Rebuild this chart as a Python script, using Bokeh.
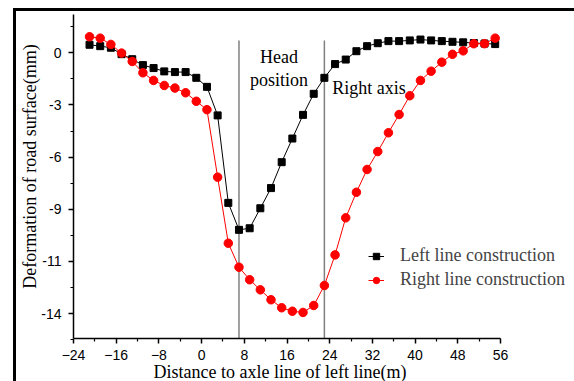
import math
from bokeh.plotting import figure
from bokeh.models import (Range1d, FixedTicker, Label, Legend, LegendItem,
                          BoxAnnotation)
from bokeh.embed import file_html
from bokeh.resources import INLINE

# ---- data ----
distance = [-21, -19, -17, -15, -13, -11, -9, -7, -5, -3, -1, 1, 3, 5, 7, 9,
            11, 13, 15, 17, 19, 21, 23, 25, 27, 29, 31, 33, 35, 37, 39, 41,
            43, 45, 47, 49, 51, 53, 55]
left_line = [0.46, 0.38, 0.29, -0.08, -0.37, -0.71, -0.88, -1.07, -1.11,
             -1.11, -1.44, -1.96, -3.60, -8.63, -10.18, -10.09, -8.94, -7.78,
             -6.29, -4.93, -3.57, -2.36, -1.44, -0.65, -0.39, 0.09, 0.38,
             0.55, 0.67, 0.67, 0.71, 0.76, 0.71, 0.67, 0.63, 0.60, 0.56,
             0.53, 0.50]
right_line = [0.92, 0.84, 0.48, -0.02, -0.50, -1.15, -1.59, -1.88, -2.03,
              -2.30, -2.79, -3.27, -7.15, -10.95, -12.33, -13.05, -13.63,
              -14.20, -14.66, -14.86, -14.93, -14.53, -13.38, -11.62, -9.49,
              -8.02, -6.71, -5.68, -4.60, -3.55, -2.47, -1.59, -1.06, -0.54,
              -0.09, 0.11, 0.52, 0.52, 0.84]
x_ticks = [-24, -16, -8, 0, 8, 16, 24, 32, 40, 48, 56]
y_ticks = [0, -3, -6, -9, -12, -15]
y_tick_labels = ["0", "-3", "-6", "-9", "-11", "-14"]
ref_lines = [7, 23]
series_names = ["Left line construction", "Right line construction"]

SERIF = "Liberation Serif"
SANS = "Liberation Sans"

# axis extents (where the drawn axes start/end)
AX0, AX1 = -24, 56
AY0, AY1 = -16.43, 2.2
# whole canvas range (frame covers the whole canvas, axes at fixed locations)
X0, X1 = -37.68, 69.86
Y0, Y1 = -18.90, 3.005

p = figure(width=574, height=381, x_range=Range1d(X0, X1),
           y_range=Range1d(Y0, Y1), output_backend="svg",
           toolbar_location=None, min_border=0)
p.title.visible = False
p.background_fill_color = "white"
p.border_fill_color = "white"
p.outline_line_color = None
p.grid.visible = False

# axes
x_minor = [t + 4 for t in x_ticks[:-1]]
y_minor = [t + 1.5 for t in y_ticks] + [t - 1.5 for t in y_ticks]
p.xaxis.ticker = FixedTicker(ticks=x_ticks, minor_ticks=x_minor)
p.yaxis.ticker = FixedTicker(ticks=y_ticks, minor_ticks=y_minor)
p.yaxis.major_label_overrides = dict(zip(y_ticks, y_tick_labels))
p.xaxis.fixed_location = AY0
p.yaxis.fixed_location = AX0
p.xaxis.bounds = (AX0, AX1)
p.yaxis.bounds = (AY0, AY1)
for ax in (p.xaxis[0], p.yaxis[0]):
    ax.axis_line_color = "black"
    ax.axis_line_width = 1.5
    ax.major_tick_line_color = "black"
    ax.major_tick_line_width = 1.5
    ax.minor_tick_line_color = "black"
    ax.minor_tick_line_width = 1.2
    ax.major_tick_in = 0
    ax.major_tick_out = 5
    ax.minor_tick_in = 0
    ax.minor_tick_out = 3
    ax.major_label_text_font = SANS
    ax.major_label_text_font_size = "14px"
    ax.major_label_text_color = "black"
p.xaxis.major_label_standoff = 6
p.yaxis.major_label_standoff = 7

# reference lines
p.segment(x0=ref_lines, y0=[AY0] * len(ref_lines), x1=ref_lines,
          y1=[0.71] * len(ref_lines), line_color="#808080", line_width=1.5)

# series
l1 = p.line(distance, left_line, line_color="black", line_width=1)
s1 = p.scatter(distance, left_line, marker="square", size=7,
               fill_color="black", line_color="black")
l2 = p.line(distance, right_line, line_color="red", line_width=1)
s2 = p.scatter(distance, right_line, marker="circle", size=8.5,
               fill_color="red", line_color="red")

legend = Legend(items=[LegendItem(label=series_names[0], renderers=[l1, s1]),
                       LegendItem(label=series_names[1], renderers=[l2, s2])],
                location=(368, 91), border_line_color=None,
                background_fill_alpha=0, label_text_font=SERIF,
                label_text_font_size="18px", glyph_width=16, glyph_height=20,
                label_height=20, label_standoff=16, spacing=3, padding=0,
                margin=0)
p.add_layout(legend)

# annotations
for txt, x, y, align in [("Head", 14.5, -0.27, "center"),
                         ("position", 14.5, -1.59, "center"),
                         ("Right axis", 24.47, -2.04, "left")]:
    p.add_layout(Label(x=x, y=y, text=txt, text_font=SERIF,
                       text_font_size="18px", text_align=align,
                       text_baseline="middle", text_color="black"))

# axis titles placed as labels
p.add_layout(Label(x=14.69, y=-18.33, text="Distance to axle line of left line(m)",
                   text_font=SERIF, text_font_size="18px", text_align="center",
                   text_baseline="middle", text_color="black"))
p.add_layout(Label(x=-32.06, y=-6.54, text="Deformation of road surface(mm)",
                   text_font=SERIF, text_font_size="18px", text_align="center",
                   text_baseline="middle", text_color="black",
                   angle=math.pi / 2))

# outer thick border (top and left)
p.add_layout(BoxAnnotation(left=12.5, right=574, top=7.5, bottom=10.5,
                           left_units="canvas", right_units="canvas",
                           top_units="canvas", bottom_units="canvas",
                           fill_color="black", fill_alpha=1, line_color=None))
p.add_layout(BoxAnnotation(left=12.5, right=15.5, top=7.5, bottom=381,
                           left_units="canvas", right_units="canvas",
                           top_units="canvas", bottom_units="canvas",
                           fill_color="black", fill_alpha=1, line_color=None))

open("out.html", "w").write(file_html(p, INLINE))
